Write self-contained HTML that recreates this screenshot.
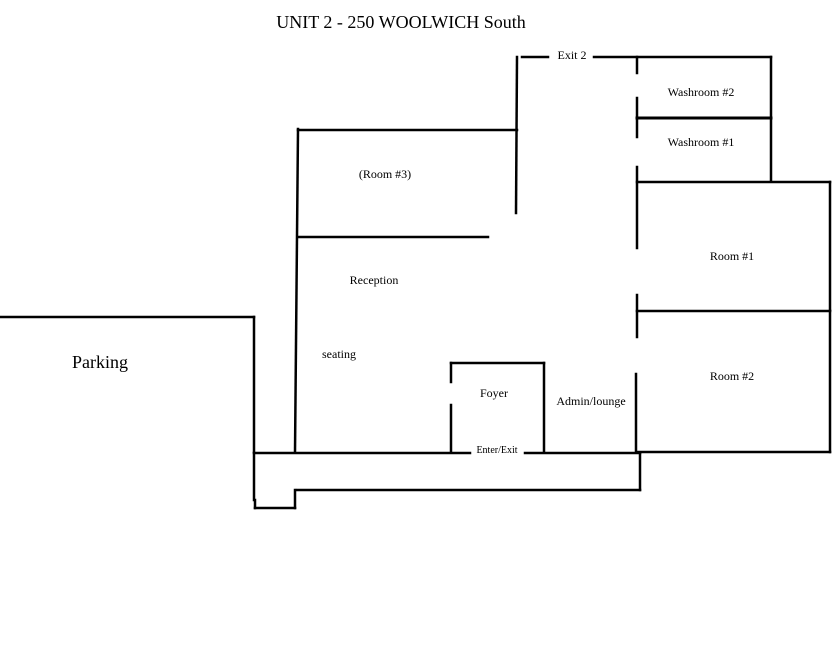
<!DOCTYPE html>
<html><head><style>body{margin:0;background:#fff}svg{display:block}text{font-family:"Liberation Serif",serif;fill:#000}</style></head>
<body>
<svg width="836" height="670" viewBox="0 0 836 670" xmlns="http://www.w3.org/2000/svg">
<g stroke="#000" stroke-width="2.5" fill="none" stroke-linecap="square">
<line x1="522" y1="57" x2="548" y2="57"/>
<line x1="594" y1="57" x2="771" y2="57"/>
<line x1="517" y1="57" x2="516" y2="213"/>
<line x1="298" y1="130" x2="517" y2="130"/>
<line x1="298" y1="129" x2="295" y2="452"/>
<line x1="298" y1="237" x2="488" y2="237"/>
<line x1="637" y1="57" x2="637" y2="73"/>
<line x1="637" y1="98" x2="637" y2="137"/>
<line x1="637" y1="167" x2="637" y2="248"/>
<line x1="637" y1="295" x2="637" y2="310"/>
<line x1="637" y1="312" x2="637" y2="337"/>
<line x1="636" y1="374" x2="636" y2="452"/>
<line x1="771" y1="57" x2="771" y2="181"/>
<line x1="637" y1="118" x2="771" y2="118" stroke-width="3"/>
<line x1="637" y1="182" x2="830" y2="182"/>
<line x1="830" y1="182" x2="830" y2="310"/>
<line x1="637" y1="311" x2="830" y2="311"/>
<line x1="830" y1="311" x2="830" y2="452"/>
<line x1="637" y1="452" x2="830" y2="452"/>
<line x1="0" y1="317" x2="254" y2="317"/>
<line x1="254" y1="317" x2="254" y2="452"/>
<line x1="451" y1="363" x2="451" y2="382"/>
<line x1="451" y1="405" x2="451" y2="452"/>
<line x1="451" y1="363" x2="544" y2="363"/>
<line x1="544" y1="363" x2="544" y2="452"/>
<line x1="254" y1="453" x2="470" y2="453"/>
<line x1="525" y1="453" x2="640" y2="453"/>
<line x1="640" y1="453" x2="640" y2="490"/>
<line x1="297" y1="490" x2="640" y2="490"/>
<line x1="254" y1="453" x2="254" y2="500"/>
<line x1="255" y1="500" x2="255" y2="508"/>
<line x1="255" y1="508" x2="295" y2="508"/>
<line x1="295" y1="490" x2="295" y2="508"/>
</g>
<text x="401" y="28" font-size="18" text-anchor="middle">UNIT 2 - 250 WOOLWICH South</text>
<text x="572" y="59" font-size="12" text-anchor="middle">Exit 2</text>
<text x="701" y="96" font-size="12" text-anchor="middle">Washroom #2</text>
<text x="701" y="146" font-size="12" text-anchor="middle">Washroom #1</text>
<text x="385" y="178" font-size="12" text-anchor="middle">(Room #3)</text>
<text x="374" y="284" font-size="12" text-anchor="middle">Reception</text>
<text x="732" y="260" font-size="12" text-anchor="middle">Room #1</text>
<text x="732" y="380" font-size="12" text-anchor="middle">Room #2</text>
<text x="100" y="368" font-size="18" text-anchor="middle">Parking</text>
<text x="339" y="358" font-size="12" text-anchor="middle">seating</text>
<text x="494" y="397" font-size="12" text-anchor="middle">Foyer</text>
<text x="591" y="405" font-size="12" text-anchor="middle">Admin/lounge</text>
<text x="497" y="453" font-size="10" text-anchor="middle">Enter/Exit</text>
</svg>
</body></html>
